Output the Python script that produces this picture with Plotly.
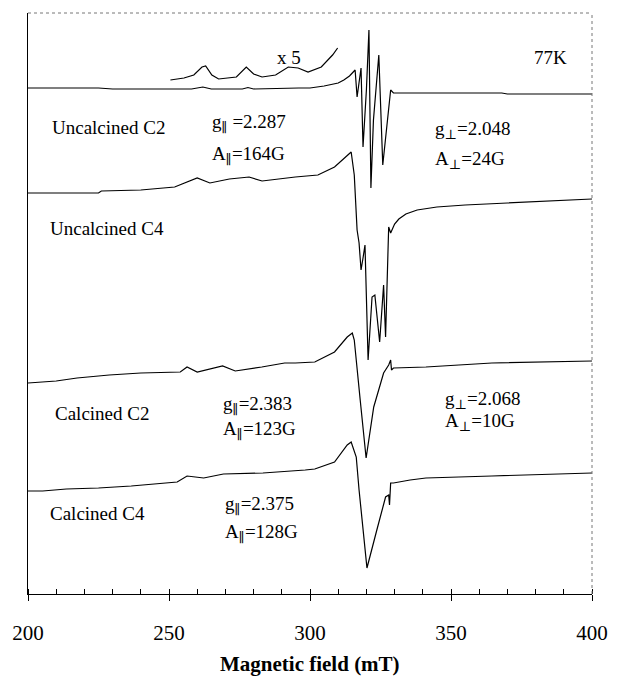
import plotly.graph_objects as go

# Magnetic field (mT) and EPR intensity (arbitrary units, offset-stacked as in the figure)
uc2_field = [200, 215, 225, 230, 245, 258, 262, 265, 276, 278, 280, 292, 294, 296, 300, 305, 310, 312, 314,
             315.5, 316, 316.7, 317.5, 318.1, 318.8, 320.0, 320.9, 321.6, 322.5, 324.4, 325.8, 327.0, 328.6,
             329.6, 340, 360, 368, 370, 400]
uc2_int = [506, 506, 506, 505, 505, 505, 507, 505, 505, 506.5, 505, 506, 506.5, 506, 506, 508, 511, 514, 518,
           523, 524, 497, 514, 526, 447, 504, 564, 406, 474, 539, 429, 464, 504,
           501, 501, 501, 501, 500, 500]

x5_field = [250.5, 255.3, 258.8, 261.7, 263.0, 265.2, 267.6, 273.9, 277.4, 280.0, 283.0, 287.8, 292.3, 295.8,
            299.3, 304.0, 308.0, 309.8]
x5_int = [514, 516, 519, 527, 528, 519, 515, 517, 527, 520, 517, 519, 527, 526,
          522, 527, 539, 546]

uc4_field = [200, 225, 226, 240, 252, 260, 264.5, 271.4, 278.4, 283, 294.8, 302.8, 308.7, 312.9, 314.6,
             315.7, 316.7, 317.4, 318.1, 318.8, 319.5, 320.6, 322.0, 323.0, 324.7, 326.1, 326.8, 327.9,
             328.6, 330.0, 331.5, 334.0, 338.0, 345.0, 355.0, 370.0, 400]
uc4_int = [401, 401, 403, 404, 407, 416, 411, 415, 417, 413, 417, 419, 427, 437, 442,
           419, 364, 351, 324, 336, 349, 234, 297, 299, 252, 309, 257, 367,
           361, 370, 375, 380, 384, 387, 389, 391, 395]

c2_field = [200, 210, 217.4, 228.8, 240, 254, 256.4, 260, 269, 273.5, 282.9, 291, 294.8, 301.7, 308.7, 313.2,
            315.0, 315.7, 317.8, 319.9, 322.6, 326.1, 327.9, 328.6, 328.9, 329.6, 341.1, 364.5, 400]
c2_int = [211, 213, 216, 219, 221, 222, 227, 222, 228, 223, 227, 231, 231, 232, 242, 257,
          261, 254, 194, 136, 187, 221, 229, 234, 224, 226, 227, 231, 233]

c4_field = [200, 205.2, 213.6, 225, 236.6, 248.4, 252.9, 256.4, 262.3, 269.3, 283.3, 298.3, 301.7, 308.7,
            313.2, 314.6, 316.4, 317.4, 320.2, 323.7, 326.8, 327.9, 328.2, 328.6, 329.6, 335.5, 341.1,
            364.5, 400]
c4_int = [103, 103, 105, 106, 108, 111, 112, 118, 116, 120, 121, 124, 125, 132,
          149, 152, 137, 104, 26, 64, 97, 99, 89, 111, 111, 114, 116, 118, 121]

tick_vals = [200, 250, 300, 350, 400]
tick_text = ["200", "250", "300", "350", "400"]

PAR = '<sub><span style="font-family:DejaVu Serif">\u2225</span></sub>'
PERP = '<sub><span style="font-family:DejaVu Serif">\u22a5</span></sub>'

labels = [
    ("x 5", 292.7, 537, "center"),
    ("77K", 385.4, 537, "center"),
    ("Uncalcined C2", 207.7, 467, "left"),
    ("g" + PAR + " =2.287", 264.5, 471, "left"),
    ("A" + PAR + "=164G", 264.5, 439, "left"),
    ("g" + PERP + "=2.048", 343.6, 464, "left"),
    ("A" + PERP + "=24G", 343.6, 434, "left"),
    ("Uncalcined C4", 207.0, 366, "left"),
    ("Calcined C2", 208.7, 181, "left"),
    ("g" + PAR + "=2.383", 268.6, 189, "left"),
    ("A" + PAR + "=123G", 268.6, 164, "left"),
    ("g" + PERP + "=2.068", 347.0, 194, "left"),
    ("A" + PERP + "=10G", 347.0, 172, "left"),
    ("Calcined C4", 207.0, 81, "left"),
    ("g" + PAR + "=2.375", 269.3, 89, "left"),
    ("A" + PAR + "=128G", 269.3, 61, "left"),
]

FONT = "Liberation Serif, Times New Roman, serif"
line_style = dict(color="black", width=1.2)

fig = go.Figure()
for xs, ys in [(uc2_field, uc2_int), (x5_field, x5_int), (uc4_field, uc4_int),
               (c2_field, c2_int), (c4_field, c4_int)]:
    fig.add_trace(go.Scatter(x=xs, y=ys, mode="lines", line=line_style, showlegend=False,
                             hoverinfo="skip"))

for text, x, y, anchor in labels:
    fig.add_annotation(x=x, y=y, xref="x", yref="y", text=text, showarrow=False,
                       xanchor=anchor, yanchor="middle",
                       font=dict(family=FONT, size=19, color="black"))

fig.add_annotation(x=0.5, y=-0.12, xref="paper", yref="paper", text="<b>Magnetic field (mT)</b>",
                   showarrow=False, xanchor="center", yanchor="middle",
                   font=dict(family=FONT, size=21, color="black"))

# dotted top and right frame
fig.add_shape(type="line", xref="paper", yref="paper", x0=0, x1=1, y0=1, y1=1,
              line=dict(color="#777777", width=1, dash="dot"))
fig.add_shape(type="line", xref="paper", yref="paper", x0=1, x1=1, y0=0, y1=1,
              line=dict(color="#777777", width=1, dash="dot"))

fig.update_xaxes(range=[200, 400], showgrid=False, zeroline=False,
                 showline=True, linecolor="black", linewidth=1.2,
                 tickmode="array", tickvals=tick_vals, ticktext=tick_text,
                 ticks="outside", ticklen=6, tickwidth=1, tickcolor="black",
                 ticklabelstandoff=14,
                 tickfont=dict(family=FONT, size=21, color="black"),
                 minor=dict(dtick=10, tick0=200, ticks="inside", ticklen=5, tickwidth=1,
                            tickcolor="black", showgrid=False))
fig.update_yaxes(range=[0, 581], showgrid=False, zeroline=False, showticklabels=False,
                 ticks="", showline=True, linecolor="black", linewidth=1.2)

fig.update_layout(width=620, height=678, margin=dict(l=28, r=18, t=13, b=84),
                  plot_bgcolor="white", paper_bgcolor="white",
                  font=dict(family=FONT, color="black"))

fig.write_html("out.html")
